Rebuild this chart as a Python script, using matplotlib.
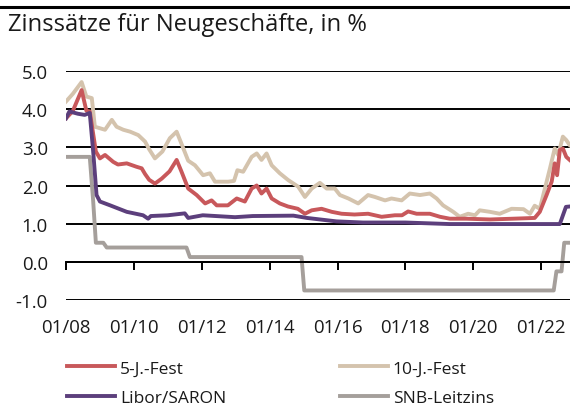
import matplotlib
matplotlib.use("Agg")
import matplotlib.pyplot as plt
from matplotlib.lines import Line2D

plt.rcParams['font.family'] = ['Open Sans', 'DejaVu Sans']

# Zeitachse in Dezimaljahren, Werte in %
t_5j = [2008.0, 2008.2, 2008.46, 2008.6, 2008.7, 2008.88, 2009.0, 2009.15, 2009.39, 2009.53,
        2009.79, 2010.08, 2010.23, 2010.33, 2010.45, 2010.62, 2010.82, 2011.05, 2011.26, 2011.4,
        2011.6, 2011.85, 2012.1, 2012.29, 2012.44, 2012.77, 2013.03, 2013.27, 2013.47, 2013.62,
        2013.76, 2013.91, 2014.06, 2014.3, 2014.54, 2014.83, 2015.04, 2015.24, 2015.53, 2015.83,
        2016.12, 2016.5, 2016.9, 2017.3, 2017.69, 2017.9, 2018.08, 2018.33, 2018.72, 2019.02,
        2019.31, 2019.8, 2020.49, 2021.17, 2021.81, 2021.96, 2022.16, 2022.31, 2022.4, 2022.47,
        2022.55, 2022.64, 2022.74, 2022.84]
v_5j = [3.76, 3.95, 4.5, 3.96, 3.94, 2.89, 2.71, 2.8, 2.62, 2.55,
        2.58, 2.49, 2.45, 2.3, 2.15, 2.05, 2.18, 2.37, 2.67, 2.37,
        1.92, 1.75, 1.53, 1.61, 1.48, 1.48, 1.66, 1.58, 1.92, 2.0,
        1.79, 1.92, 1.66, 1.53, 1.45, 1.39, 1.26, 1.35, 1.39, 1.31,
        1.26, 1.24, 1.26, 1.18, 1.22, 1.22, 1.32, 1.26, 1.26, 1.18,
        1.13, 1.13, 1.11, 1.13, 1.15, 1.31, 1.75, 2.1, 2.58, 2.27,
        2.93, 2.97, 2.75, 2.67]

t_10j = [2008.0, 2008.2, 2008.46, 2008.6, 2008.76, 2008.85, 2009.0, 2009.15, 2009.35, 2009.49,
         2009.69, 2009.89, 2010.13, 2010.33, 2010.45, 2010.62, 2010.84, 2011.06, 2011.26, 2011.4,
         2011.6, 2011.8, 2012.04, 2012.24, 2012.39, 2012.78, 2012.95, 2013.05, 2013.22, 2013.47,
         2013.62, 2013.76, 2013.91, 2014.06, 2014.3, 2014.55, 2014.84, 2015.04, 2015.24, 2015.48,
         2015.68, 2015.92, 2016.07, 2016.32, 2016.61, 2016.9, 2017.1, 2017.4, 2017.59, 2017.89,
         2018.13, 2018.43, 2018.72, 2018.92, 2019.11, 2019.41, 2019.6, 2019.85, 2020.05, 2020.19,
         2020.49, 2020.78, 2021.13, 2021.48, 2021.67, 2021.81, 2021.96, 2022.11, 2022.26, 2022.4,
         2022.5, 2022.64, 2022.74, 2022.84]
v_10j = [4.2, 4.4, 4.71, 4.33, 4.29, 3.54, 3.5, 3.46, 3.72, 3.54,
         3.46, 3.41, 3.32, 3.15, 2.95, 2.71, 2.89, 3.24, 3.41, 3.1,
         2.65, 2.53, 2.27, 2.32, 2.1, 2.1, 2.12, 2.4, 2.36, 2.75,
         2.84, 2.67, 2.84, 2.53, 2.32, 2.14, 1.97, 1.7, 1.92, 2.07,
         1.92, 1.92, 1.75, 1.66, 1.53, 1.75, 1.7, 1.61, 1.66, 1.61,
         1.79, 1.75, 1.79, 1.66, 1.48, 1.31, 1.18, 1.26, 1.22, 1.35,
         1.31, 1.26, 1.39, 1.38, 1.26, 1.47, 1.39, 1.92, 2.45, 2.97,
         2.8, 3.28, 3.19, 3.06]

t_libor = [2008.0, 2008.1, 2008.35, 2008.55, 2008.7, 2008.8, 2008.9, 2009.0, 2009.3, 2009.79,
           2010.27, 2010.42, 2010.5, 2011.0, 2011.5, 2011.6, 2012.03, 2012.98, 2013.5, 2014.7,
           2015.1, 2015.97, 2016.75, 2018.0, 2019.3, 2022.55, 2022.73, 2022.84]
v_libor = [3.76, 3.94, 3.88, 3.85, 3.9, 2.9, 1.75, 1.58, 1.48, 1.31,
           1.22, 1.13, 1.2, 1.22, 1.27, 1.15, 1.22, 1.17, 1.2, 1.21,
           1.15, 1.06, 1.03, 1.03, 0.99, 0.99, 1.44, 1.45]

t_snb = [2008.0, 2008.7, 2008.8, 2008.88, 2009.1, 2009.2, 2011.55, 2011.65, 2014.94, 2015.02,
         2022.37, 2022.45, 2022.6, 2022.68, 2022.84]
v_snb = [2.75, 2.75, 1.6, 0.5, 0.5, 0.375, 0.375, 0.125, 0.125, -0.75,
         -0.75, -0.25, -0.25, 0.5, 0.5]

x_ticks = [2008, 2010, 2012, 2014, 2016, 2018, 2020, 2022]
x_labels = ["01/08", "01/10", "01/12", "01/14", "01/16", "01/18", "01/20", "01/22"]
y_ticks = [-1, 0, 1, 2, 3, 4, 5]
y_labels = ["-1.0", "0.0", "1.0", "2.0", "3.0", "4.0", "5.0"]

c_5j = '#c8585b'
c_10j = '#d4c3ad'
c_libor = '#5c3f7c'
c_snb = '#a59f9b'

fig = plt.figure(figsize=(5.7, 4.06), dpi=100)
ax = fig.add_axes([66 / 570, 1 - 301 / 406, 1 - 66 / 570, (301 - 72) / 406])

lw = 2.8
l10, = ax.plot(t_10j, v_10j, color=c_10j, lw=lw, solid_joinstyle='round')
l5, = ax.plot(t_5j, v_5j, color=c_5j, lw=lw, solid_joinstyle='round')
ls, = ax.plot(t_snb, v_snb, color=c_snb, lw=lw, solid_joinstyle='round')
ll, = ax.plot(t_libor, v_libor, color=c_libor, lw=lw, solid_joinstyle='round')

ax.set_xlim(2008, 2022.85)
ax.set_ylim(-1, 5)
ax.set_yticks(y_ticks)
ax.set_yticklabels(y_labels)
ax.set_xticks(x_ticks)
ax.set_xticklabels(x_labels)

for s in ['top', 'right', 'left']:
    ax.spines[s].set_visible(False)
ax.spines['bottom'].set_position(('data', 0))
ax.spines['bottom'].set_linewidth(1.4)
ax.grid(axis='y', color='black', lw=1.4)
ax.set_axisbelow(True)

ax.tick_params(axis='y', length=0, pad=13, labelsize=13.4, labelcolor='#1a1a1a')
ax.tick_params(axis='x', direction='out', length=5.5, width=1.4, pad=35,
               labelsize=13.4, labelcolor='#1a1a1a')

# Kopf
fig.add_artist(Line2D([0, 1], [1 - 8 / 406, 1 - 8 / 406], color='black', lw=2.2,
                      transform=fig.transFigure))
fig.text(8 / 570, 1 - 25 / 406, "Zinssätze für Neugeschäfte, in %", fontsize=17.1,
         va='center', ha='left', color='#1a1a1a')

fig.legend([l5, ll, l10, ls], ["5-J.-Fest", "Libor/SARON", "10-J.-Fest", "SNB-Leitzins"],
           ncol=2, loc='center left', bbox_to_anchor=(67 / 570, 1 - 384 / 406),
           frameon=False, fontsize=12.5, borderpad=0, borderaxespad=0, handlelength=2.76,
           handletextpad=0.29, columnspacing=6.55, labelspacing=0.75,
           labelcolor='#1a1a1a')

fig.savefig("out.png", dpi=100)
